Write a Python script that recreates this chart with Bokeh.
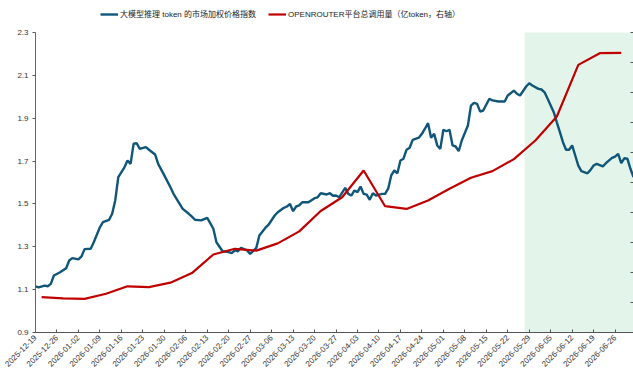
import pandas as pd
from bokeh.plotting import figure
from bokeh.models import (Range1d, LinearAxis, FixedTicker, DatetimeTickFormatter,
                          Legend, LegendItem, BoxAnnotation, ColumnDataSource)
from bokeh.embed import file_html
from bokeh.resources import INLINE
from math import pi

# ---------------- data ----------------
price_dates = [
    "2025-12-19", "2025-12-20", "2025-12-22", "2025-12-23", "2025-12-24", "2025-12-25",
    "2025-12-27", "2025-12-29", "2025-12-30", "2025-12-31", "2026-01-02", "2026-01-03",
    "2026-01-04", "2026-01-06", "2026-01-07", "2026-01-09", "2026-01-10", "2026-01-12",
    "2026-01-13", "2026-01-14", "2026-01-15", "2026-01-17", "2026-01-18", "2026-01-19",
    "2026-01-20", "2026-01-21", "2026-01-22", "2026-01-24", "2026-01-25", "2026-01-27",
    "2026-01-28", "2026-01-30", "2026-02-01", "2026-02-02", "2026-02-04", "2026-02-05",
    "2026-02-07", "2026-02-08", "2026-02-09", "2026-02-11", "2026-02-13", "2026-02-15",
    "2026-02-16", "2026-02-18", "2026-02-20", "2026-02-21", "2026-02-22", "2026-02-23",
    "2026-02-24", "2026-02-26", "2026-02-27", "2026-03-01", "2026-03-02", "2026-03-04",
    "2026-03-05", "2026-03-07", "2026-03-08", "2026-03-10", "2026-03-11", "2026-03-12",
    "2026-03-13", "2026-03-14", "2026-03-15", "2026-03-16", "2026-03-18", "2026-03-20",
    "2026-03-21", "2026-03-22", "2026-03-24", "2026-03-25", "2026-03-26", "2026-03-27",
    "2026-03-28", "2026-03-30", "2026-03-31", "2026-04-01", "2026-04-02", "2026-04-03",
    "2026-04-04", "2026-04-05", "2026-04-06", "2026-04-07", "2026-04-08", "2026-04-09",
    "2026-04-11", "2026-04-12", "2026-04-13", "2026-04-14", "2026-04-15", "2026-04-16",
    "2026-04-17", "2026-04-18", "2026-04-19", "2026-04-20", "2026-04-21", "2026-04-23",
    "2026-04-24", "2026-04-25", "2026-04-26", "2026-04-27", "2026-04-28", "2026-04-29",
    "2026-04-30", "2026-05-01", "2026-05-02", "2026-05-03", "2026-05-04", "2026-05-05",
    "2026-05-06", "2026-05-07", "2026-05-09", "2026-05-10", "2026-05-11", "2026-05-12",
    "2026-05-13", "2026-05-14", "2026-05-16", "2026-05-17", "2026-05-19", "2026-05-21",
    "2026-05-22", "2026-05-24", "2026-05-25", "2026-05-26", "2026-05-28", "2026-05-29",
    "2026-05-30", "2026-06-01", "2026-06-02", "2026-06-03", "2026-06-04", "2026-06-06",
    "2026-06-07", "2026-06-08", "2026-06-09", "2026-06-10", "2026-06-11", "2026-06-12",
    "2026-06-13", "2026-06-14", "2026-06-15", "2026-06-17", "2026-06-18", "2026-06-19",
    "2026-06-20", "2026-06-22", "2026-06-23", "2026-06-25", "2026-06-26", "2026-06-27",
    "2026-06-28", "2026-06-29", "2026-06-30", "2026-07-01", "2026-07-02",
]
price_index = [
    1.115, 1.111, 1.119, 1.116, 1.127, 1.166,
    1.181, 1.200, 1.236, 1.247, 1.241, 1.255,
    1.289, 1.291, 1.321, 1.391, 1.415, 1.426,
    1.454, 1.516, 1.625, 1.671, 1.703, 1.687,
    1.781, 1.783, 1.757, 1.765, 1.753, 1.731,
    1.687, 1.633, 1.578, 1.547, 1.500, 1.477,
    1.454, 1.441, 1.426, 1.423, 1.435, 1.384,
    1.321, 1.279, 1.275, 1.270, 1.283, 1.279,
    1.295, 1.283, 1.267, 1.295, 1.353, 1.389,
    1.403, 1.446, 1.461, 1.482, 1.488, 1.500,
    1.466, 1.488, 1.493, 1.508, 1.508, 1.527,
    1.531, 1.550, 1.544, 1.550, 1.538, 1.539,
    1.531, 1.575, 1.547, 1.539, 1.563, 1.555,
    1.581, 1.547, 1.543, 1.519, 1.550, 1.539,
    1.547, 1.547, 1.571, 1.633, 1.656, 1.643,
    1.703, 1.711, 1.753, 1.762, 1.799, 1.809,
    1.827, 1.851, 1.877, 1.809, 1.827, 1.773,
    1.757, 1.846, 1.839, 1.846, 1.773, 1.768,
    1.746, 1.796, 1.866, 1.959, 1.972, 1.967,
    1.931, 1.936, 1.991, 1.983, 1.978, 1.978,
    2.006, 2.029, 2.014, 2.006, 2.048, 2.063,
    2.053, 2.037, 2.034, 2.021, 1.991, 1.928,
    1.881, 1.835, 1.788, 1.753, 1.753, 1.773,
    1.726, 1.679, 1.653, 1.643, 1.659, 1.679,
    1.687, 1.675, 1.690, 1.715, 1.721, 1.734,
    1.690, 1.713, 1.711, 1.664, 1.625,
]

usage_dates = [
    "2025-12-21", "2025-12-28", "2026-01-04", "2026-01-11", "2026-01-18", "2026-01-25",
    "2026-02-01", "2026-02-08", "2026-02-15", "2026-02-22", "2026-03-01", "2026-03-08",
    "2026-03-15", "2026-03-22", "2026-03-29", "2026-04-05", "2026-04-12", "2026-04-19",
    "2026-04-26", "2026-05-03", "2026-05-10", "2026-05-17", "2026-05-24", "2026-05-31",
    "2026-06-07", "2026-06-14", "2026-06-21", "2026-06-28",
]
usage_volume = [
    1.18, 1.14, 1.12, 1.29, 1.54, 1.51,
    1.66, 1.98, 2.60, 2.79, 2.73, 2.97,
    3.37, 4.05, 4.51, 5.40, 4.21, 4.12,
    4.40, 4.79, 5.16, 5.38, 5.78, 6.40,
    7.20, 8.92, 9.31, 9.32,
]

x_tick_labels = [
    "2025-12-19", "2025-12-26", "2026-01-02", "2026-01-09", "2026-01-16", "2026-01-23",
    "2026-01-30", "2026-02-06", "2026-02-13", "2026-02-20", "2026-02-27", "2026-03-06",
    "2026-03-13", "2026-03-20", "2026-03-27", "2026-04-03", "2026-04-10", "2026-04-17",
    "2026-04-24", "2026-05-01", "2026-05-08", "2026-05-15", "2026-05-22", "2026-05-29",
    "2026-06-05", "2026-06-12", "2026-06-19", "2026-06-26",
]
left_ticks = [0.9, 1.1, 1.3, 1.5, 1.7, 1.9, 2.1, 2.3]
right_ticks = [0, 1, 2, 3, 4, 5, 6, 7, 8, 9, 10]

x_start, x_end = "2025-12-19", "2026-07-02"
shade_start = "2026-05-27 12:00"

series_names = ["大模型推理 token 的市场加权价格指数", "OPENROUTER平台总调用量（亿token，右轴）"]

# ---------------- chart ----------------
def ms(s):
    return pd.Timestamp(s).value / 1e6

FONT = "Liberation Sans, 'Noto Sans CJK SC', sans-serif"
BLUE = "#0f5679"
RED = "#c00000"

# the frame reaches the top of the canvas; a headroom strip above the axes holds the legend
TOP_PX, AXIS_PX = 32, 300
lo, hi = left_ticks[0], left_ticks[-1]
left_top = hi + (hi - lo) * TOP_PX / AXIS_PX
r_lo, r_hi = right_ticks[0], right_ticks[-1]
right_top = r_hi + (r_hi - r_lo) * TOP_PX / AXIS_PX

p = figure(width=633, height=380, output_backend="svg", toolbar_location=None,
           x_axis_type="datetime",
           x_range=Range1d(ms(x_start), ms(x_end)),
           y_range=Range1d(lo, left_top),
           min_border_left=35, min_border_right=0, min_border_top=0, min_border_bottom=48)
p.outline_line_color = None
p.xgrid.visible = False
p.ygrid.visible = False
p.background_fill_color = "white"

p.extra_y_ranges = {"right": Range1d(r_lo, right_top)}

shade = BoxAnnotation(left=ms(shade_start), right=ms(x_end), bottom=lo, top=hi,
                      fill_color="#e3f5ea", fill_alpha=1.0, line_color=None, level="underlay")
p.add_layout(shade)

src_b = ColumnDataSource(dict(x=pd.to_datetime(price_dates), y=price_index))
src_r = ColumnDataSource(dict(x=pd.to_datetime(usage_dates), y=usage_volume))

lb = p.line("x", "y", source=src_b, line_color=BLUE, line_width=2.4)
lr = p.line("x", "y", source=src_r, line_color=RED, line_width=2.2, y_range_name="right")

# x axis
xa = p.xaxis[0]
xa.ticker = FixedTicker(ticks=[ms(t) for t in x_tick_labels])
xa.formatter = DatetimeTickFormatter(days="%Y-%m-%d", months="%Y-%m-%d", years="%Y-%m-%d",
                                     hours="%Y-%m-%d", minutes="%Y-%m-%d")
xa.major_label_orientation = pi / 4
xa.major_label_text_font = FONT
xa.major_label_text_font_size = "8px"
xa.major_label_text_color = "#333333"
xa.major_tick_in = 3
xa.major_tick_out = 0
xa.minor_tick_line_color = None
xa.axis_line_color = "#555555"
xa.major_tick_line_color = "#555555"
xa.major_label_standoff = 4

# left axis
ya = p.yaxis[0]
ya.ticker = FixedTicker(ticks=left_ticks)
ya.bounds = (lo, hi)
ya.major_label_text_font = FONT
ya.major_label_text_font_size = "8px"
ya.major_label_text_color = "#333333"
ya.major_tick_in = 0
ya.major_tick_out = 3
ya.minor_tick_line_color = None
ya.axis_line_color = "#666666"
ya.major_tick_line_color = "#555555"
ya.major_label_standoff = 4

# right axis (no labels)
ra = LinearAxis(y_range_name="right", ticker=FixedTicker(ticks=right_ticks), bounds=(r_lo, r_hi))
ra.major_label_text_font_size = "0px"
ra.major_tick_in = 3
ra.major_tick_out = 0
ra.minor_tick_line_color = None
ra.axis_line_color = None
ra.major_tick_line_color = "#555555"
ra.major_label_standoff = 0
p.add_layout(ra, "right")

legend = Legend(items=[LegendItem(label=series_names[0], renderers=[lb]),
                       LegendItem(label=series_names[1], renderers=[lr])],
                orientation="horizontal", location=(65, 313),
                label_text_font=FONT, label_text_font_size="8px",
                label_text_color="#222222", glyph_width=18, glyph_height=8,
                spacing=12, padding=2, margin=0, border_line_color=None,
                background_fill_alpha=0, label_standoff=2, label_height=10)
p.add_layout(legend, "center")

open("out.html", "w").write(file_html(p, INLINE))
